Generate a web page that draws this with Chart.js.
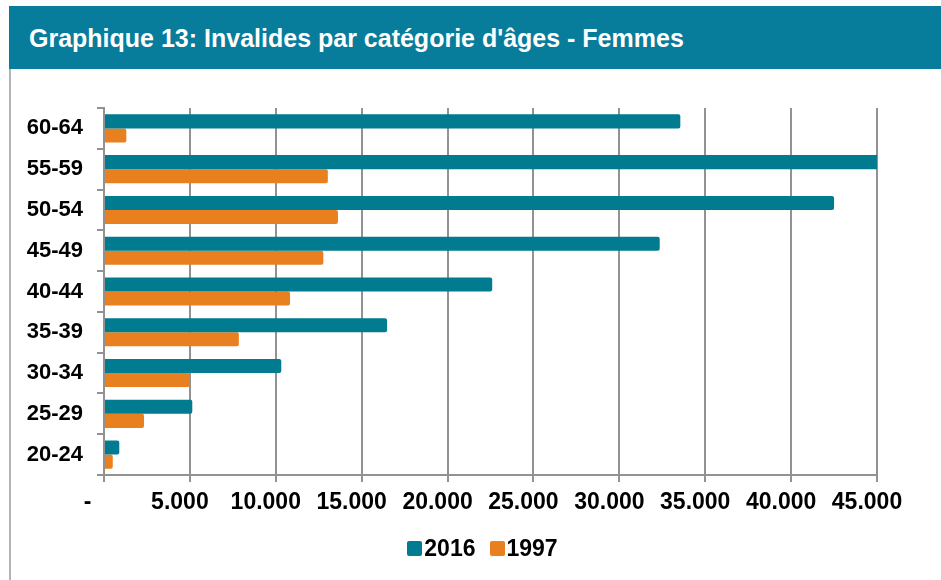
<!DOCTYPE html>
<html lang="fr">
<head>
<meta charset="utf-8">
<title>Graphique 13</title>
<script src="https://cdn.jsdelivr.net/npm/chart.js@4"></script>
<style>
  html, body { margin: 0; padding: 0; background: #fff; }
  body { width: 941px; height: 580px; position: relative; overflow: hidden;
         font-family: "Liberation Sans", Arial, sans-serif; }
  #titleBar { position: absolute; left: 9px; top: 6px; right: 0; height: 63px;
              background: #087c9b; color: #fff; font-weight: bold; font-size: 25px;
              line-height: 64px; padding-left: 20px; box-sizing: border-box; }
  #frame { position: absolute; left: 9px; top: 69px; width: 2px; bottom: 0; background: #b4b4b4; }
  #wrap { position: absolute; left: 0; top: 0; width: 941px; height: 580px; }
  #legend { position: absolute; left: 12px; width: 941px; top: 535px; display: flex;
            justify-content: center; font-weight: bold; font-size: 23px; color: #000; }
  .item { display: flex; align-items: center; margin: 0 7px; }
  .box { width: 15px; height: 15px; border-radius: 2px; margin-right: 2px; }
</style>
</head>
<body>
<div id="titleBar">Graphique 13: Invalides par catégorie d'âges - Femmes</div>
<div id="frame"></div>
<div id="wrap"><canvas id="chart" width="941" height="580"></canvas></div>
<div id="legend"></div>

<script>
/* ---------- DATA ---------- */
const ageGroups = ["60-64", "55-59", "50-54", "45-49", "40-44", "35-39", "30-34", "25-29", "20-24"];
const values2016 = [33550, 45100, 42500, 32350, 22600, 16480, 10320, 5140, 890];
const values1997 = [1300, 13030, 13620, 12770, 10830, 7850, 5000, 2330, 510];
const seriesLabels = ["2016", "1997"];
const seriesColors = ["#007b8f", "#e9801f"];

const gridColor = "#929292";
const fontFamily = "'Liberation Sans', Arial, sans-serif";

/* ---------- CHART ---------- */
const chart = new Chart(document.getElementById("chart"), {
  type: "bar",
  data: {
    labels: ageGroups,
    datasets: [
      { label: seriesLabels[0], data: values2016, backgroundColor: seriesColors[0] },
      { label: seriesLabels[1], data: values1997, backgroundColor: seriesColors[1] }
    ]
  },
  options: {
    indexAxis: "y",
    responsive: false,
    animation: false,
    categoryPercentage: 0.69,
    barPercentage: 1.0,
    borderRadius: 2,
    layout: { padding: { left: 0, right: 64, top: 108, bottom: 65 } },
    plugins: {
      legend: { display: false },
      tooltip: { enabled: false }
    },
    scales: {
      x: {
        min: 0,
        max: 45000,
        ticks: {
          stepSize: 5000,
          color: "#000",
          font: { family: fontFamily, size: 23, weight: "bold" },
          padding: 7,
          labelOffset: -10,
          maxRotation: 0,
          callback: v => v === 0 ? "-  " : v.toLocaleString("de-DE")
        },
        grid: { color: gridColor, lineWidth: 2, tickLength: 7 },
        border: { color: gridColor, width: 2 },
        afterFit: s => { s.height = 40; }
      },
      y: {
        ticks: { color: "#000", font: { family: fontFamily, size: 22, weight: "bold" }, padding: 14 },
        grid: { drawOnChartArea: false, color: gridColor, lineWidth: 2, tickLength: 7, offset: true },
        border: { color: gridColor, width: 2 },
        afterFit: s => { s.width = 104; }
      }
    }
  }
});

/* ---------- LEGEND ---------- */
const legendEl = document.getElementById("legend");
seriesLabels.forEach((lab, i) => {
  const item = document.createElement("div");
  item.className = "item";
  item.innerHTML = `<span class="box" style="background:${seriesColors[i]}"></span><span>${lab}</span>`;
  legendEl.appendChild(item);
});
</script>
</body>
</html>
